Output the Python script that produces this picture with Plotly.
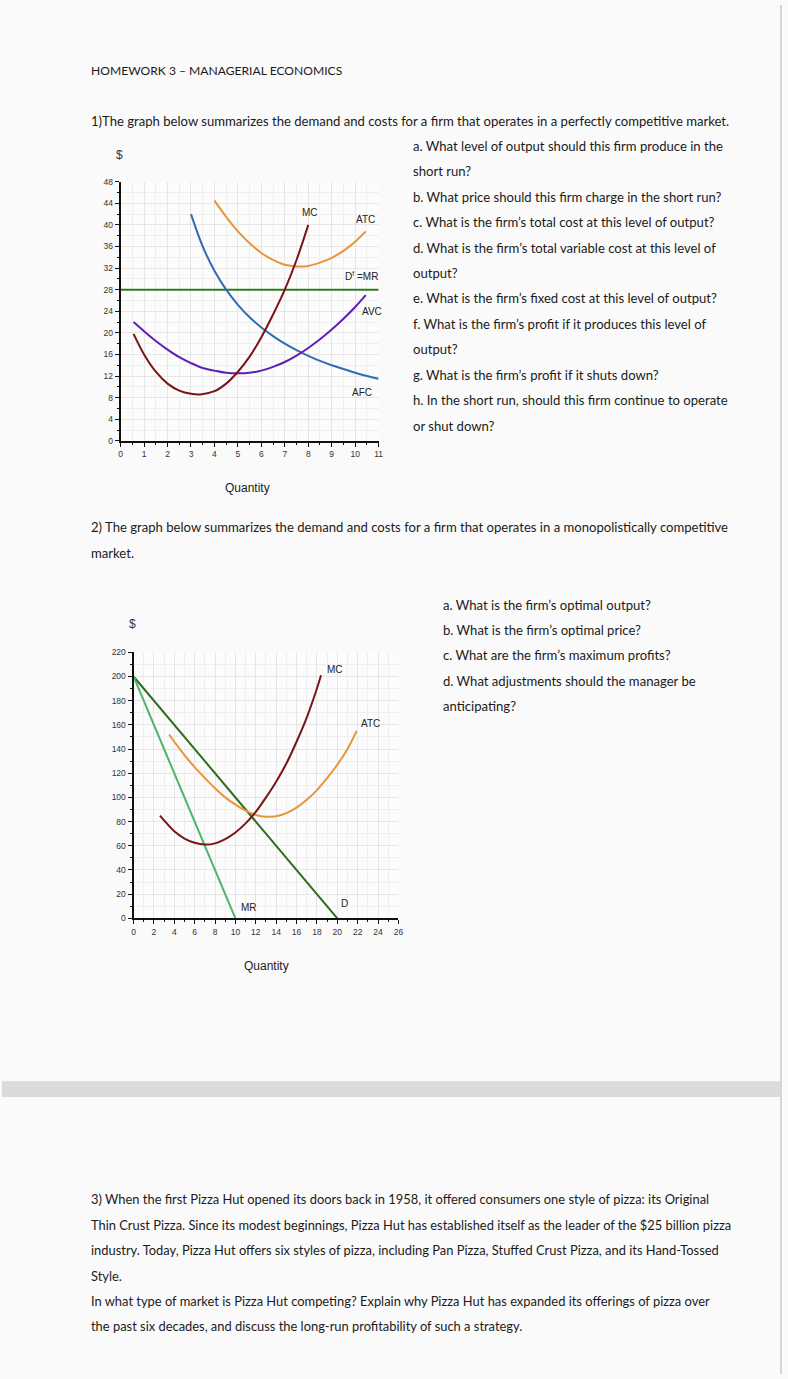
import plotly.graph_objects as go

W, H = 788, 1379

# ---------------- Data: chart 1 (perfect competition) ----------------
mc1_q = [0.55, 1, 1.5, 2, 2.5, 3, 3.4, 4, 4.5, 5, 5.5, 6, 6.5, 7, 7.5, 8]
mc1_p = [19.8, 16.0, 12.8, 10.6, 9.3, 8.7, 8.6, 9.2, 10.6, 12.8, 15.6, 19.2, 23.4, 28.0, 33.5, 40.0]

atc1_q = [4, 4.5, 5, 5.5, 6, 6.5, 7, 7.5, 8, 8.5, 9, 9.5, 10, 10.45]
atc1_p = [44.5, 41.5, 38.8, 36.6, 34.8, 33.5, 32.6, 32.3, 32.4, 33.0, 33.9, 35.2, 36.9, 38.8]

afc1_q = [3, 3.5, 4, 4.5, 5, 5.5, 6, 6.5, 7, 7.5, 8, 8.5, 9, 9.5, 10, 10.5, 11]
afc1_p = [42.0, 36.0, 31.5, 28.0, 25.2, 22.9, 21.0, 19.4, 18.0, 16.8, 15.75, 14.8, 14.0, 13.3, 12.6, 12.0, 11.5]

avc1_q = [0.55, 1, 1.5, 2, 2.5, 3, 3.5, 4, 4.5, 5, 5.5, 6, 6.5, 7, 7.5, 8, 8.5, 9, 9.5, 10, 10.45]
avc1_p = [22.0, 20.3, 18.5, 16.9, 15.5, 14.4, 13.5, 13.0, 12.6, 12.5, 12.6, 13.0, 13.7, 14.6, 15.8, 17.2, 18.8, 20.6, 22.6, 24.8, 27.0]

d1_q = [0, 11]
d1_p = [28, 28]

# ---------------- Data: chart 2 (monopolistic competition) ----------------
d2_q = [0, 20]
d2_p = [200, 0]
mr2_q = [0, 10]
mr2_p = [200, 0]

mc2_q = [2.6, 3, 4, 5, 6, 7, 8, 9, 10, 11, 12, 13, 14, 15, 16, 17, 18, 18.4]
mc2_p = [85, 81, 72, 66, 62.5, 61, 62, 65.5, 71, 78.5, 88, 100, 113, 128, 146, 166, 190, 201]

atc2_q = [3.5, 4, 5, 6, 7, 8, 9, 10, 11, 12, 13, 14, 15, 16, 17, 18, 19, 20, 21, 21.9]
atc2_p = [152, 146, 135, 125, 116, 107.5, 100, 94, 89, 85.5, 84, 84.5, 87, 91.5, 98, 106, 116, 127, 140, 155]

# ---------------- Text ----------------
title_text = "HOMEWORK 3 – MANAGERIAL ECONOMICS"
q1_intro = "1)The graph below summarizes the demand and costs for a firm that operates in a perfectly competitive market."
q1_lines = [
    "a. What level of output should this firm produce in the",
    "short run?",
    "b. What price should this firm charge in the short run?",
    "c. What is the firm’s total cost at this level of output?",
    "d. What is the firm’s total variable cost at this level of",
    "output?",
    "e. What is the firm’s fixed cost at this level of output?",
    "f. What is the firm’s profit if it produces this level of",
    "output?",
    "g. What is the firm’s profit if it shuts down?",
    "h. In the short run, should this firm continue to operate",
    "or shut down?",
]
q2_intro = ["2) The graph below summarizes the demand and costs for a firm that operates in a monopolistically competitive",
            "market."]
q2_lines = [
    "a. What is the firm’s optimal output?",
    "b. What is the firm’s optimal price?",
    "c. What are the firm’s maximum profits?",
    "d. What adjustments should the manager be",
    "anticipating?",
]
q3_lines = [
    "3) When the first Pizza Hut opened its doors back in 1958, it offered consumers one style of pizza: its Original",
    "Thin Crust Pizza. Since its modest beginnings, Pizza Hut has established itself as the leader of the $25 billion pizza",
    "industry. Today, Pizza Hut offers six styles of pizza, including Pan Pizza, Stuffed Crust Pizza, and its Hand-Tossed",
    "Style.",
    "In what type of market is Pizza Hut competing? Explain why Pizza Hut has expanded its offerings of pizza over",
    "the past six decades, and discuss the long-run profitability of such a strategy.",
]


def px(x):
    return x / W


def py(y):
    return 1 - y / H


BODY_FONT = "Lato"
BODY_SIZE = 13.1
TXT = "#1a1a1a"
CHART_FONT = "Liberation Sans"

fig = go.Figure()

# chart 1 traces
fig.add_trace(go.Scatter(x=d1_q, y=d1_p, mode="lines", line=dict(color="#2e7a1e", width=2), xaxis="x", yaxis="y"))
fig.add_trace(go.Scatter(x=afc1_q, y=afc1_p, mode="lines", line=dict(color="#2f6db3", width=2, shape="spline"), xaxis="x", yaxis="y"))
fig.add_trace(go.Scatter(x=avc1_q, y=avc1_p, mode="lines", line=dict(color="#5d1fb5", width=2, shape="spline"), xaxis="x", yaxis="y"))
fig.add_trace(go.Scatter(x=atc1_q, y=atc1_p, mode="lines", line=dict(color="#e8953a", width=2, shape="spline"), xaxis="x", yaxis="y"))
fig.add_trace(go.Scatter(x=mc1_q, y=mc1_p, mode="lines", line=dict(color="#7a1416", width=2, shape="spline"), xaxis="x", yaxis="y"))

# chart 2 traces
fig.add_trace(go.Scatter(x=d2_q, y=d2_p, mode="lines", line=dict(color="#2f6b1f", width=2), xaxis="x2", yaxis="y2"))
fig.add_trace(go.Scatter(x=mr2_q, y=mr2_p, mode="lines", line=dict(color="#4cb56a", width=2), xaxis="x2", yaxis="y2"))
fig.add_trace(go.Scatter(x=atc2_q, y=atc2_p, mode="lines", line=dict(color="#e8953a", width=2, shape="spline"), xaxis="x2", yaxis="y2"))
fig.add_trace(go.Scatter(x=mc2_q, y=mc2_p, mode="lines", line=dict(color="#7a1416", width=2, shape="spline"), xaxis="x2", yaxis="y2"))

tickfont = dict(family=CHART_FONT, size=8.5, color="#333333")
axis_common = dict(
    showline=True, linecolor="#111111", linewidth=2, ticks="outside", ticklen=4, tickcolor="#111111",
    tickwidth=1, showgrid=True, gridcolor="#e6e6e6", gridwidth=1, zeroline=False, tickfont=tickfont,
    fixedrange=True,
)

fig.update_layout(
    width=W, height=H, margin=dict(l=0, r=0, t=0, b=0),
    paper_bgcolor="#fafafa", plot_bgcolor="#fcfcfc", showlegend=False,
    xaxis=dict(domain=[px(119.7), px(380)], range=[0, 11], dtick=1, anchor="y",
               minor=dict(dtick=0.5, showgrid=True, gridcolor="#efefef", ticks="outside", ticklen=2, tickcolor="#111111"),
               **axis_common),
    yaxis=dict(domain=[py(439), py(178)], range=[0, 48], dtick=4, anchor="x",
               minor=dict(dtick=2, showgrid=True, gridcolor="#efefef", ticks="outside", ticklen=2, tickcolor="#111111"),
               **axis_common),
    xaxis2=dict(domain=[px(132.7), px(400)], range=[0, 26], dtick=2, anchor="y2",
                minor=dict(dtick=1, showgrid=True, gridcolor="#efefef", ticks="outside", ticklen=2, tickcolor="#111111"),
                **axis_common),
    yaxis2=dict(domain=[py(920), py(652)], range=[0, 220], dtick=20, anchor="x2",
                minor=dict(dtick=10, showgrid=True, gridcolor="#efefef", ticks="outside", ticklen=2, tickcolor="#111111"),
                **axis_common),
)

ann = []


def body(text, x, y, size=BODY_SIZE, family=BODY_FONT, color=TXT, anchor="left"):
    ann.append(dict(text=text, x=px(x), y=py(y), xref="paper", yref="paper", xanchor=anchor, yanchor="middle",
                    showarrow=False, font=dict(family=family, size=size, color=color)))


def clabel(text, x, y, axis, size=10):
    ann.append(dict(text=text, x=x, y=y, xref="x" + axis, yref="y" + axis, xanchor="center", yanchor="middle",
                    showarrow=False, font=dict(family=CHART_FONT, size=size, color="#222222")))


body(title_text, 88, 66, size=12.1)
body(q1_intro, 88, 117)
for i, t in enumerate(q1_lines):
    body(t, 413, 142 + i * 25.6)
for i, t in enumerate(q2_intro):
    body(t, 88, 526 + i * 26)
for i, t in enumerate(q2_lines):
    body(t, 443, 604 + i * 25.5)
for i, t in enumerate(q3_lines):
    body(t, 88, 1203 + i * 25.6, size=12.9)

# chart decorations
body("$", 119, 151, size=12, family=CHART_FONT, color="#333333", anchor="center")
body("$", 132, 624, size=12, family=CHART_FONT, color="#333333", anchor="center")
body("Quantity", 248, 487, size=12, family=CHART_FONT, color="#222222", anchor="center")
body("Quantity", 267, 968, size=12, family=CHART_FONT, color="#222222", anchor="center")

clabel("MC", 8.07, 42.3, "")
clabel("ATC", 10.44, 41.0, "")
clabel("D<sup>f</sup> =MR", 10.25, 30.6, "")
clabel("AVC", 10.7, 24.0, "")
clabel("AFC", 10.3, 9.0, "")

clabel("MC", 19.8, 206, "2")
clabel("ATC", 23.3, 161, "2")
clabel("MR", 11.3, 9, "2")
clabel("D", 20.7, 12.5, "2")

fig.update_layout(annotations=ann)

# page separator band and right edge
fig.add_shape(type="rect", xref="paper", yref="paper", x0=0, x1=px(785), y0=py(1100), y1=py(1084),
              fillcolor="#dadada", line=dict(width=0), layer="above")
fig.add_shape(type="line", xref="paper", yref="paper", x0=px(786), x1=px(786), y0=0, y1=1,
              line=dict(color="#d6d6d6", width=2), layer="above")

fig.write_html("out.html", config={"displayModeBar": False},
               post_script="document.body.style.margin='0';document.body.style.background='#fafafa';")
